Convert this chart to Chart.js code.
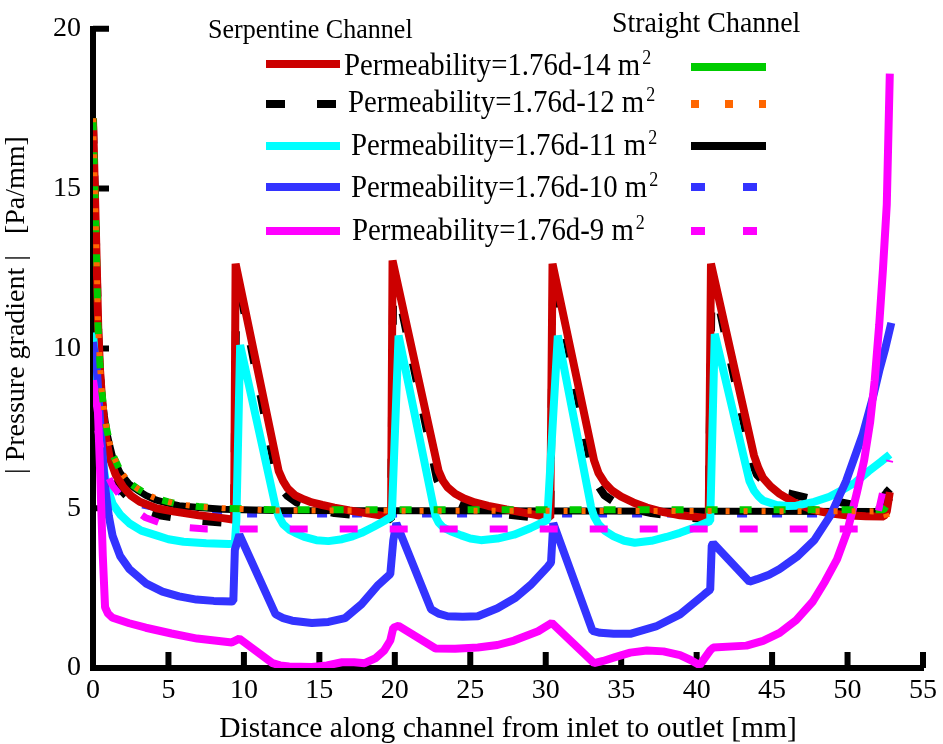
<!DOCTYPE html>
<html>
<head>
<meta charset="utf-8">
<script src="https://cdn.jsdelivr.net/npm/chart.js@4.4.0/dist/chart.umd.min.js"></script>
<style>
  html, body { margin: 0; padding: 0; background: #fff; }
</style>
</head>
<body>
<canvas id="myChart" width="943" height="744"></canvas>
<script>
    var serif = "'Liberation Serif', 'Times New Roman', serif";

    // axis ticks
    var xTicks = [0, 5, 10, 15, 20, 25, 30, 35, 40, 45, 50, 55];
    var yTicks = [0, 5, 10, 15, 20];

    // serpentine channel, K = 1.76d-14
    var serp14X = [0, 0.12, 0.24, 0.35, 0.47, 0.6, 0.8, 1.1, 1.5, 2.0, 2.5, 3.1, 4.2, 5.3, 7.0, 8.6, 9.35,
                   9.45, 12.3, 12.6, 12.9, 13.4, 14.0, 14.5, 15.2, 16.0, 17.0, 18.3, 19.75,
                   19.85, 22.9, 23.2, 23.5, 24.0, 24.6, 25.3, 26.2, 27.4, 28.9, 30.3,
                   30.45, 33.2, 33.5, 33.9, 34.4, 35.0, 35.8, 36.7, 37.8, 38.9, 40.8,
                   40.95, 43.8, 44.1, 44.4, 44.9, 45.5, 46.5, 47.7, 48.8, 49.9, 51.2, 52.4, 52.6, 52.8];
    var serp14Y = [17.2, 15.0, 12.8, 10.6, 9.3, 8.4, 7.4, 6.58, 6.05, 5.67, 5.4, 5.2, 5.0, 4.9, 4.78, 4.69, 4.64,
                   12.65, 6.17, 5.85, 5.62, 5.4, 5.27, 5.18, 5.1, 5.02, 4.93, 4.83, 4.72,
                   12.75, 6.17, 5.85, 5.65, 5.45, 5.3, 5.18, 5.07, 4.96, 4.83, 4.7,
                   12.65, 6.5, 6.1, 5.8, 5.55, 5.36, 5.18, 5.02, 4.88, 4.78, 4.69,
                   12.65, 6.65, 6.25, 5.95, 5.68, 5.45, 5.17, 4.95, 4.84, 4.78, 4.75, 4.74, 4.9, 5.5];

    // serpentine channel, K = 1.76d-12
    var serp12X = [0, 0.12, 0.24, 0.35, 0.47, 0.6, 0.8, 1.1, 1.5, 2.0, 2.6, 3.3, 4.4, 6.4, 8.6, 9.35,
                   9.5, 12.2, 12.5, 12.9, 13.5, 14.5, 16.0, 18.0, 19.75,
                   19.9, 22.8, 23.1, 23.5, 24.1, 25.0, 26.5, 28.5, 30.3,
                   30.5, 33.1, 33.4, 33.9, 34.6, 35.4, 37.0, 39.0, 40.8,
                   41.0, 43.7, 44.0, 44.5, 45.0, 45.5, 46.2, 47.5, 49.4, 51.0, 52.3, 52.6, 52.8];
    var serp12Y = [17.0, 14.8, 12.6, 10.4, 9.1, 8.2, 7.2, 6.4, 5.85, 5.5, 5.2, 4.95, 4.78, 4.63, 4.55, 4.55,
                   12.4, 5.9, 5.6, 5.38, 5.18, 5.0, 4.85, 4.75, 4.65,
                   12.5, 5.9, 5.6, 5.38, 5.18, 5.0, 4.85, 4.75, 4.65,
                   12.4, 6.1, 5.75, 5.4, 5.18, 5.0, 4.85, 4.72, 4.65,
                   12.4, 6.4, 6.05, 5.8, 5.6, 5.5, 5.45, 5.3, 5.2, 5.05, 4.9, 5.5, 5.6];

    // serpentine channel, K = 1.76d-11
    var serp11X = [0, 0.3, 0.5, 0.8, 1.05, 1.3, 1.8, 2.4, 3.2, 4.2, 5.0, 6.0, 7.5, 9.0, 9.4, 9.5,
                   9.75, 12.1, 12.3, 12.6, 13.0, 13.4, 14.0, 14.8, 15.6, 16.5, 17.2, 17.8, 18.6, 19.3, 19.8,
                   20.25, 22.7, 22.9, 23.2, 23.7, 24.4, 25.0, 25.7, 26.8, 27.9, 29.0, 30.1,
                   30.8, 33.0, 33.2, 33.5, 33.9, 34.5, 35.2, 35.9, 37.0, 38.0, 38.9, 40.0, 40.9,
                   41.2, 43.5, 43.8, 44.1, 44.4, 45.3, 46.0, 46.6, 47.8, 48.8, 49.7, 50.5, 51.4, 52.2, 52.8];
    var serp11Y = [10.5, 8.5, 7.0, 5.97, 5.5, 5.14, 4.8, 4.53, 4.3, 4.15, 4.03, 3.95, 3.9, 3.88, 3.9, 4.6,
                   10.1, 5.05, 4.75, 4.5, 4.33, 4.23, 4.1, 4.0, 3.97, 4.03, 4.12, 4.23, 4.42, 4.6, 4.74,
                   10.4, 4.74, 4.55, 4.4, 4.28, 4.15, 4.05, 4.0, 4.05, 4.17, 4.38, 4.63,
                   10.4, 5.05, 4.75, 4.5, 4.3, 4.12, 3.98, 3.92, 3.98, 4.1, 4.23, 4.42, 4.6,
                   10.45, 5.85, 5.55, 5.37, 5.24, 5.1, 5.07, 5.08, 5.2, 5.36, 5.58, 5.8, 6.16, 6.45, 6.68];

    // serpentine channel, K = 1.76d-10
    var serp10X = [0, 0.26, 0.5, 0.8, 1.05, 1.3, 1.8, 2.4, 3.5, 4.6, 5.7, 6.86, 8.0, 9.2, 9.3, 9.4,
                   9.7, 12.1, 12.6, 13.2, 14.5, 15.6, 16.7, 17.8, 18.9, 19.7, 19.9,
                   20.1, 22.4, 22.9, 23.5, 24.5, 25.5, 26.8, 28.0, 29.0, 30.1, 30.35,
                   30.5, 33.1, 33.6, 34.5, 35.6, 37.3, 38.9, 40.5, 40.9, 41.0,
                   41.1, 43.5, 44.0, 44.8, 45.5, 46.7, 47.8, 48.9, 49.9, 51.0, 51.7, 52.1, 52.5, 52.9];
    var serp10Y = [10.2, 9.3, 7.5, 5.67, 4.75, 4.13, 3.5, 3.1, 2.65, 2.39, 2.24, 2.14, 2.1, 2.08, 2.1, 3.7,
                   4.17, 1.68, 1.56, 1.48, 1.41, 1.44, 1.56, 2.0, 2.6, 2.94, 4.0,
                   4.53, 1.84, 1.7, 1.62, 1.6, 1.62, 1.87, 2.2, 2.6, 3.15, 3.3,
                   4.53, 1.16, 1.1, 1.07, 1.07, 1.3, 1.68, 2.3, 2.45, 3.83,
                   3.9, 2.7, 2.78, 2.92, 3.1, 3.5, 4.0, 4.8, 5.85, 7.3, 8.5, 9.3, 10.0, 10.8];

    // serpentine channel, K = 1.76d-9
    var serp9X = [0, 0.33, 0.46, 0.65, 0.8, 1.0, 1.3, 2.4, 3.5, 5.2, 6.9, 9.2,
                  9.7, 11.9, 12.4, 13.0, 14.5, 15.5, 16.5, 17.3, 18.0, 18.7, 19.3, 19.7, 19.9,
                  20.25, 22.7, 24.0, 25.5, 26.8, 27.9, 29.5,
                  30.4, 33.2, 33.8, 34.6, 35.6, 36.7, 37.8, 38.9, 39.6, 40.2, 40.9,
                  41.1, 43.3, 44.4, 45.5, 46.6, 47.7, 48.5, 49.3, 50.0, 50.6, 51.1, 51.5, 51.8, 52.1, 52.35, 52.6, 52.8];
    var serp9Y = [9.0, 8.0, 6.3, 3.5, 1.9, 1.7, 1.57, 1.4, 1.26, 1.08, 0.92, 0.8,
                  0.92, 0.15, 0.08, 0.05, 0.03, 0.08, 0.18, 0.18, 0.15, 0.3, 0.55, 0.86, 1.26,
                  1.32, 0.61, 0.6, 0.64, 0.72, 0.86, 1.15,
                  1.41, 0.15, 0.22, 0.34, 0.48, 0.55, 0.52, 0.4, 0.25, 0.09, 0.55,
                  0.64, 0.7, 0.85, 1.1, 1.5, 2.08, 2.7, 3.4, 4.3, 5.45, 6.5, 7.7, 9.0, 10.75, 12.5, 14.5, 18.6];

    // straight channel, K = 1.76d-14
    var str14X = [0, 0.12, 0.24, 0.33, 0.45, 0.57, 0.75, 0.9, 1.1, 1.3, 1.8, 2.4, 3.0, 3.5, 4.2, 5.0, 5.7, 7.0, 8.6, 12.0, 52.4, 52.8];
    var str14Y = [17.2, 15.0, 12.8, 10.75, 9.6, 8.7, 8.0, 7.5, 7.05, 6.68, 6.18, 5.8, 5.6, 5.45, 5.3, 5.2, 5.12, 5.05, 5.0, 4.95, 4.95, 5.25];

    // straight channel, K = 1.76d-12
    var str12X = [0, 0.12, 0.24, 0.33, 0.45, 0.57, 0.75, 0.9, 1.1, 1.3, 1.8, 2.4, 3.0, 3.5, 4.2, 5.0, 5.7, 7.0, 8.6, 12.0, 52.5, 52.8];
    var str12Y = [17.2, 15.0, 12.8, 10.75, 9.6, 8.7, 8.0, 7.5, 7.05, 6.68, 6.18, 5.8, 5.6, 5.45, 5.3, 5.2, 5.12, 5.05, 5.0, 4.93, 4.9, 4.4];

    // straight channel, K = 1.76d-11
    var str11X = [0, 0.12, 0.24, 0.33, 0.45, 0.57, 0.75, 0.9, 1.1, 1.3, 1.8, 2.4, 3.0, 3.5, 4.2, 5.0, 5.7, 7.0, 8.6, 12.0, 52.3, 52.5, 52.8];
    var str11Y = [17.1, 14.9, 12.7, 10.7, 9.55, 8.6, 7.9, 7.4, 6.98, 6.6, 6.1, 5.75, 5.55, 5.4, 5.25, 5.15, 5.08, 5.02, 4.97, 4.93, 4.9, 5.5, 5.2];

    // straight channel, K = 1.76d-10
    var str10X = [0, 0.3, 0.6, 1.0, 1.8, 2.5, 3.3, 4.3, 5.5, 7.5, 10.0, 52.8];
    var str10Y = [10.0, 8.5, 7.0, 6.0, 5.5, 5.25, 5.1, 5.0, 4.92, 4.84, 4.82, 4.82];

    // straight channel, K = 1.76d-9
    var str9X = [0, 0.3, 0.7, 1.3, 2.3, 3.5, 4.4, 5.3, 6.3, 7.5, 51.3, 51.9, 52.8];
    var str9Y = [9.0, 7.5, 6.3, 5.7, 5.1, 4.7, 4.55, 4.45, 4.39, 4.35, 4.35, 4.6, 6.5];

    var labels = ['Permeability=1.76d-14 m', 'Permeability=1.76d-12 m', 'Permeability=1.76d-11 m',
                  'Permeability=1.76d-10 m', 'Permeability=1.76d-9 m'];

    function pts(xs, ys) {
        return xs.map(function (x, i) { return { x: x, y: ys[i] }; });
    }

    function line(data, color, width, dash, order) {
        return {
            data: data,
            borderColor: color,
            backgroundColor: color,
            borderWidth: width,
            borderDash: dash,
            borderCapStyle: 'butt',
            borderJoinStyle: 'bevel',
            pointRadius: 0,
            tension: 0,
            fill: false,
            order: order
        };
    }

    // serpentine and straight styles, used by both the plot and the legend
    var serpStyle = [
        { color: '#CC0000', dash: [] },
        { color: '#000000', dash: [19, 32] },
        { color: '#00FFFF', dash: [] },
        { color: '#3333FF', dash: [] },
        { color: '#FF00FF', dash: [] }
    ];
    var strStyle = [
        { color: '#00CC00', dash: [] },
        { color: '#FF6600', dash: [8, 26] },
        { color: '#000000', dash: [] },
        { color: '#3333FF', dash: [14, 38] },
        { color: '#FF00FF', dash: [14, 38] }
    ];

    // lower order is painted on top
    var datasets = [
        line(pts(str10X, str10Y), strStyle[3].color, 7, [10, 25], 11),
        line(pts(str11X, str11Y), strStyle[2].color, 7, strStyle[2].dash, 10),
        line(pts(serp12X, serp12Y), serpStyle[1].color, 8, serpStyle[1].dash, 9),
        line(pts(serp14X, serp14Y), serpStyle[0].color, 8, [], 8),
        line(pts(serp11X, serp11Y), serpStyle[2].color, 8, [], 7),
        line(pts(serp10X, serp10Y), serpStyle[3].color, 8, [], 6),
        line(pts(serp9X, serp9Y), serpStyle[4].color, 8, [], 5),
        line(pts(str14X, str14Y), strStyle[0].color, 7, [12, 22], 4),
        line(pts(str12X, str12Y), strStyle[1].color, 6, [4, 14], 3),
        line(pts(str9X, str9Y), strStyle[4].color, 7, [18, 32], 1)
    ];

    // tick marks pointing into the plot
    var innerTicks = {
        id: 'innerTicks',
        beforeDatasetsDraw: function (chart) {
            var c = chart.ctx, a = chart.chartArea, sx = chart.scales.x, sy = chart.scales.y;
            c.save();
            c.strokeStyle = '#000';
            c.lineWidth = 6;
            c.beginPath();
            sx.ticks.forEach(function (t) {
                if (t.value === 0) return;
                var px = sx.getPixelForValue(t.value);
                c.moveTo(px, a.bottom);
                c.lineTo(px, a.bottom - 16);
            });
            sy.ticks.forEach(function (t) {
                if (t.value === 0) return;
                var py = sy.getPixelForValue(t.value);
                c.moveTo(a.left, py);
                c.lineTo(a.left + 16, py);
            });
            c.stroke();
            c.restore();
        }
    };

    // rotated y title, set a little above the axis middle
    var yTitle = {
        id: 'yTitle',
        afterDraw: function (chart) {
            var c = chart.ctx;
            c.save();
            c.translate(17, 305);
            c.rotate(-Math.PI / 2);
            c.font = '28px ' + serif;
            c.fillStyle = '#000';
            c.textAlign = 'center';
            c.textBaseline = 'middle';
            c.fillText('| Pressure gradient |   [Pa/mm]', 0, 0);
            c.restore();
        }
    };

    // narrow serif text: taller glyphs squeezed to width
    function narrowText(c, text, x, y, size, squeeze) {
        c.save();
        c.translate(x, y);
        c.scale(squeeze, 1);
        c.font = size + 'px ' + serif;
        c.fillText(text, 0, 0);
        var w = c.measureText(text).width * squeeze;
        c.restore();
        return w;
    }

    // two-column legend: serpentine on the left, straight on the right
    var channelLegend = {
        id: 'channelLegend',
        afterDraw: function (chart) {
            var c = chart.ctx;
            var lineY = [64, 104, 146, 187, 231];
            var textY = [75, 112, 155, 197, 240];
            var textX = [344, 348, 351, 351, 352];
            c.save();
            c.fillStyle = '#000';
            c.textBaseline = 'alphabetic';
            narrowText(c, 'Serpentine Channel', 208, 38, 28, 0.93);
            narrowText(c, 'Straight Channel', 612, 32, 30, 0.93);
            c.lineCap = 'butt';
            for (var i = 0; i < 5; i++) {
                c.lineWidth = 8;
                c.strokeStyle = serpStyle[i].color;
                c.setLineDash(serpStyle[i].dash);
                c.beginPath();
                c.moveTo(266, lineY[i]);
                c.lineTo(340, lineY[i]);
                c.stroke();

                c.strokeStyle = strStyle[i].color;
                c.setLineDash(strStyle[i].dash);
                c.beginPath();
                c.moveTo(691, lineY[i] + (i === 0 ? 3 : 0));
                c.lineTo(766, lineY[i] + (i === 0 ? 3 : 0));
                c.stroke();
                c.setLineDash([]);

                var w = narrowText(c, labels[i], textX[i], textY[i], 32, 0.9);
                narrowText(c, '2', textX[i] + w + 2, textY[i] - 11, 20, 0.9);
            }
            c.restore();
        }
    };

    var ctx = document.getElementById('myChart').getContext('2d');
    var chart = new Chart(ctx, {
        type: 'line',
        data: { datasets: datasets },
        options: {
            responsive: false,
            animation: false,
            devicePixelRatio: 1,
            layout: { padding: { left: 0, right: 16, top: 15, bottom: 0 } },
            plugins: { legend: { display: false }, tooltip: { enabled: false } },
            scales: {
                x: {
                    type: 'linear',
                    min: 0,
                    max: 55,
                    afterBuildTicks: function (s) { s.ticks = xTicks.map(function (v) { return { value: v }; }); },
                    afterFit: function (s) { s.height = 76; },
                    grid: { display: false, drawTicks: false },
                    border: { display: true, color: '#000', width: 6 },
                    ticks: { color: '#000', font: { family: serif, size: 28 }, padding: 6, maxRotation: 0 },
                    title: { display: true, text: 'Distance along channel from inlet to outlet [mm]', color: '#000',
                             font: { family: serif, size: 29.5, lineHeight: 1.0 }, padding: { top: 0, bottom: 0 } }
                },
                y: {
                    type: 'linear',
                    min: 0,
                    max: 20,
                    afterBuildTicks: function (s) { s.ticks = yTicks.map(function (v) { return { value: v }; }); },
                    afterFit: function (s) { s.width = 93; },
                    grid: { display: false, drawTicks: false },
                    border: { display: true, color: '#000', width: 6 },
                    ticks: { color: '#000', font: { family: serif, size: 28 }, padding: 12 }
                }
            }
        },
        plugins: [innerTicks, yTitle, channelLegend]
    });
</script>
</body>
</html>
